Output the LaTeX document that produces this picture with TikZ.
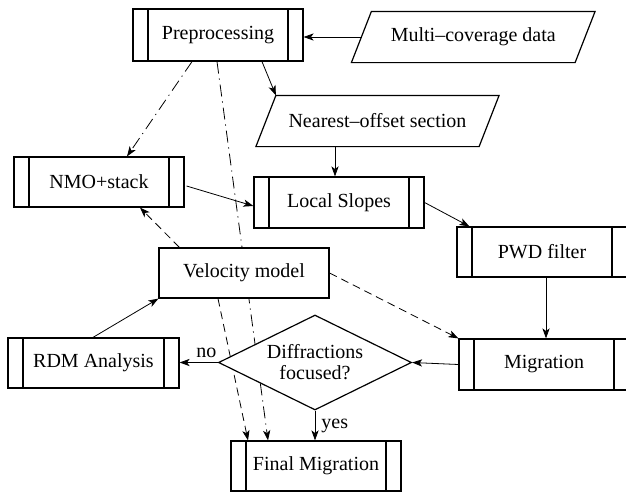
\documentclass[tikz,border=0pt]{standalone}
\usepackage{fontspec}
\setmainfont{Liberation Serif}
\usetikzlibrary{arrows.meta,shapes.geometric,backgrounds,calc}
\begin{document}
\begin{tikzpicture}[x=0.5pt,y=-0.5pt,line width=0.6pt,
  >={Stealth[length=5pt,width=3.6pt,inset=1.3pt]},
  box/.style={draw,fill=white,minimum width=85pt,minimum height=25pt,inner sep=0pt},
  bars/.style={box,path picture={
    \draw ([xshift=7.5pt]path picture bounding box.north west) -- ([xshift=7.5pt]path picture bounding box.south west);
    \draw ([xshift=-7.5pt]path picture bounding box.north east) -- ([xshift=-7.5pt]path picture bounding box.south east);}},
  para/.style={inner sep=0pt,minimum height=25pt},
  decision/.style={diamond,draw,fill=white,minimum width=96.5pt,minimum height=47.5pt,aspect=2,inner sep=0pt,align=center},
  dashdot/.style={dash pattern=on 6pt off 2.5pt on 0.6pt off 2.5pt},
  dsh/.style={dash pattern=on 4pt off 2.5pt},
  lbl/.style={inner sep=2pt}]
\useasboundingbox (0,0) rectangle (626,493);

\node[bars,minimum height=26pt] (pre) at (218,35) {Preprocessing};
\node[para,minimum width=111.25pt] (mc) at (473.25,37) {Multi--coverage data};
\draw ($(mc.north west)+(10,0)$) -- ($(mc.north east)+(10,0)$) -- ($(mc.south east)+(-10,0)$) -- ($(mc.south west)+(-10,0)$) -- cycle;
\node[para,minimum width=111pt] (no) at (377.5,121) {Nearest--offset section};
\draw ($(no.north west)+(10,0)$) -- ($(no.north east)+(10,0)$) -- ($(no.south east)+(-10,0)$) -- ($(no.south west)+(-10,0)$) -- cycle;
\node[bars] (nmo) at (99,182) {NMO+stack};
\node[bars,minimum height=25.5pt] (ls) at (339,202.5) {Local Slopes};
\node[bars] (pwd) at (542,252) {PWD filter};
\node[bars,minimum height=25.5pt] (mig) at (544,364.5) {Migration};
\node[box] (vm) at (244,273) {Velocity model};
\node[bars,minimum width=85.5pt] (rdm) at (93.5,363) {RDM Analysis};
\node[decision] (dia) at (315,362.5) {Diffractions\\[-1.5pt]focused?};
\node[bars] (fm) at (316,466) {Final Migration};

\begin{scope}[on background layer]
\draw[->] (mc.west) -- (mc.west -| pre.east);
\draw[->] ($(pre.south)+(44,0)$) -- ($(no.north west)+(10,0)$);
\draw[->,dashdot] ($(pre.south)+(-26,0)$) -- ($(nmo.north)+(28,0)$);
\draw[->,dashdot] ($(pre.south)+(-1,0)$) -- ($(fm.north)+(-48,0)$);
\draw[->] ($(no.south)+(-42.5,0)$) -- ($(ls.north)+(-4,0)$);
\draw[->] ($(nmo.east)+(2,4)$) -- ($(ls.west)+(0,3.5)$);
\draw[->] (ls.east) -- ($(pwd.north west)+(13,0)$);
\draw[->] ($(pwd.south)+(4,0)$) -- ($(mig.north)+(2,0)$);
\draw[->] (mig.west) -- (dia.east);
\draw[->] (dia.west) -- node[lbl,above,pos=0.3] (lno) {no} (dia.west -| rdm.east);
\draw[->] (dia.south) -- node[lbl,right,inner sep=3pt] (lyes) {yes} (dia.south |- fm.north);
\draw[->] ($(rdm.north)+(-0.5,0)$) -- (vm.south west);
\draw[->,dsh] ($(vm.north west)+(21,0)$) -- ($(nmo.south)+(41,0)$);
\draw[->,dsh] (vm.east) -- (mig.north west);
\draw[->,dsh] ($(vm.south)+(-26,0)$) -- ($(fm.north)+(-68,0)$);
\end{scope}
\end{tikzpicture}
\end{document}
